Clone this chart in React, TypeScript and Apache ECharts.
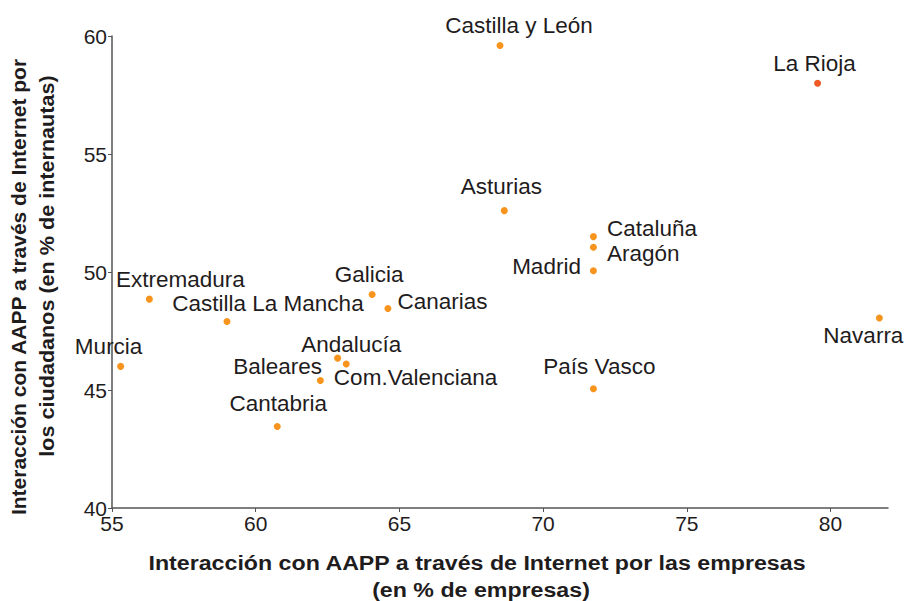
import React, { useEffect, useRef } from "react";
import * as echarts from "echarts";

const regions = [
  "Castilla y León", "La Rioja", "Asturias", "Cataluña", "Aragón", "Madrid",
  "Galicia", "Canarias", "Extremadura", "Castilla La Mancha", "Navarra", "Murcia",
  "Andalucía", "Baleares", "Com.Valenciana", "Cantabria", "País Vasco",
];
const empresas = [
  68.5, 79.55, 68.65, 71.75, 71.75, 71.75,
  64.05, 64.6, 56.3, 59.0, 81.7, 55.3,
  63.15, 62.85, 62.25, 60.75, 71.75,
];
const ciudadanos = [
  59.6, 58.0, 52.6, 51.5, 51.05, 50.05,
  49.05, 48.45, 48.85, 47.9, 48.05, 46.0,
  46.1, 46.35, 45.4, 43.45, 45.05,
];
const xTicks = [55, 60, 65, 70, 75, 80];
const yTicks = [40, 45, 50, 55, 60];

const highlighted = "La Rioja";

// label placement: [position, dx, dy]
const labelPlacement: Record<string, [string, number, number]> = {
  "Castilla y León": ["top", 19, 0],
  "La Rioja": ["top", -3, 0],
  "Asturias": ["top", -3, -4],
  "Cataluña": ["right", 5, -8],
  "Aragón": ["right", 5, 6],
  "Madrid": ["left", -4, -4],
  "Galicia": ["top", -3, 0],
  "Canarias": ["right", 1, -7],
  "Extremadura": ["top", 31, 0],
  "Castilla La Mancha": ["top", 41, 2],
  "Navarra": ["bottom", -16, -3],
  "Murcia": ["top", -12, 0],
  "Andalucía": ["top", 5, 0],
  "Baleares": ["left", -7, 8],
  "Com.Valenciana": ["right", 5, -3],
  "Cantabria": ["top", 1, -3],
  "País Vasco": ["top", 6, -2],
};

const FONT = "'Liberation Sans', Arial, Helvetica, sans-serif";
const TEXT = "#1f1c1d";

export default function App() {
  const ref = useRef<HTMLDivElement>(null);
  useEffect(() => {
    if (!ref.current) return;
    const chart = echarts.init(ref.current, undefined, { renderer: "svg" });
    const data = regions.map((name, i) => {
      const [pos, dx, dy] = labelPlacement[name];
      return {
        name,
        value: [empresas[i], ciudadanos[i]],
        itemStyle: { color: name === highlighted ? "#f15a24" : "#f7941d", opacity: 1 },
        label: { position: pos, offset: [dx, dy] },
      };
    });
    chart.setOption({
      animation: false,
      backgroundColor: "#ffffff",
      grid: { left: 112, right: 22, top: 36, bottom: 93, containLabel: false },
      xAxis: {
        type: "value",
        min: 55,
        max: 82,
        interval: 5,
        splitLine: { show: false },
        axisLine: { show: true, lineStyle: { color: "#555", width: 1.5 } },
        axisTick: { show: true, length: 4, customValues: xTicks, lineStyle: { color: "#555" } },
        axisLabel: {
          customValues: xTicks,
          color: TEXT,
          fontSize: 21,
          fontFamily: FONT,
          margin: 5,
        },
      },
      yAxis: {
        type: "value",
        min: 40,
        max: 60,
        interval: 5,
        splitLine: { show: false },
        axisLine: { show: true, lineStyle: { color: "#555", width: 1.5 } },
        axisTick: { show: true, length: 4, customValues: yTicks, lineStyle: { color: "#555" } },
        axisLabel: {
          customValues: yTicks,
          color: TEXT,
          fontSize: 21,
          fontFamily: FONT,
          margin: 5,
        },
      },
      series: [
        {
          type: "scatter",
          symbol: "circle",
          symbolSize: 7,
          data,
          label: {
            show: true,
            formatter: "{b}",
            color: TEXT,
            fontSize: 22.5,
            fontFamily: FONT,
            distance: 5,
          },
        },
      ],
      graphic: [
        {
          type: "text",
          x: 477,
          y: 563,
          scaleX: 1.16,
          style: {
            text: "Interacción con AAPP a través de Internet por las empresas",
            fill: TEXT,
            font: `bold 20px ${FONT}`,
            align: "center",
            verticalAlign: "middle",
          },
        },
        {
          type: "text",
          x: 481,
          y: 590,
          scaleX: 1.16,
          style: {
            text: "(en % de empresas)",
            fill: TEXT,
            font: `bold 20px ${FONT}`,
            align: "center",
            verticalAlign: "middle",
          },
        },
        {
          type: "text",
          x: 19,
          y: 287,
          rotation: Math.PI / 2,
          scaleX: 1.05,
          style: {
            text: "Interacción con AAPP a través de Internet por",
            fill: TEXT,
            font: `bold 20px ${FONT}`,
            align: "center",
            verticalAlign: "middle",
          },
        },
        {
          type: "text",
          x: 47,
          y: 266,
          rotation: Math.PI / 2,
          scaleX: 1.08,
          style: {
            text: "los ciudadanos (en % de internautas)",
            fill: TEXT,
            font: `bold 20px ${FONT}`,
            align: "center",
            verticalAlign: "middle",
          },
        },
      ],
    });
    return () => chart.dispose();
  }, []);
  return (
    <div
      ref={ref}
      style={{ position: "absolute", left: 0, top: 0, width: 910, height: 601 }}
    />
  );
}
